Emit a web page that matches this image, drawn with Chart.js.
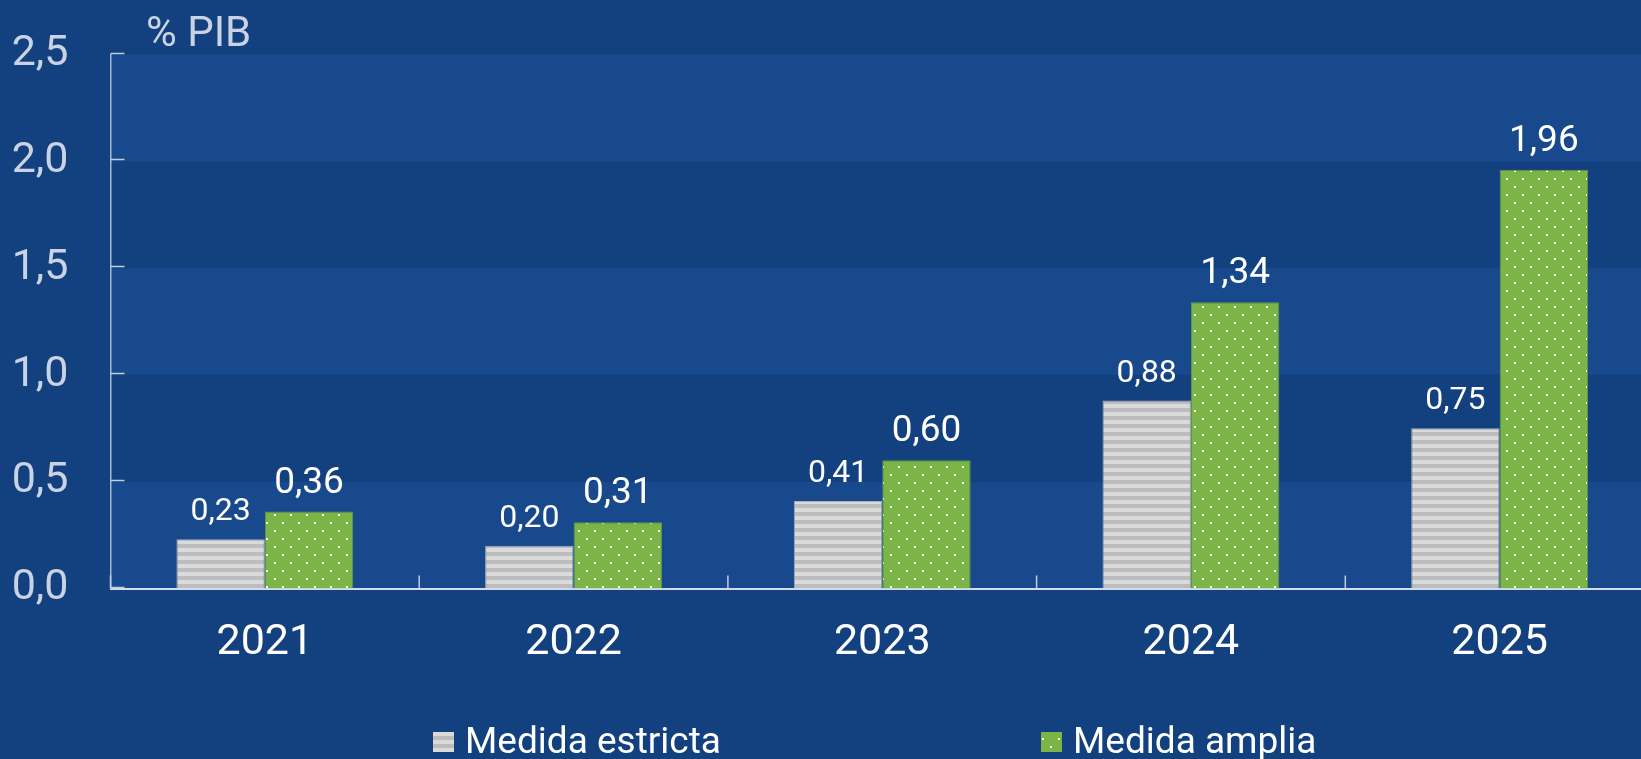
<!DOCTYPE html>
<html>
<head>
<meta charset="utf-8">
<script src="https://cdn.jsdelivr.net/npm/chart.js@4/dist/chart.umd.min.js"></script>
<style>
  html, body { margin: 0; padding: 0; background: #13417f; overflow: hidden; }
  canvas { display: block; }
</style>
</head>
<body>
<canvas id="chart" width="1670" height="759"></canvas>
<script>
// datos
const years = ["2021", "2022", "2023", "2024", "2025"];
const estricta = [0.23, 0.20, 0.41, 0.88, 0.75];
const amplia = [0.36, 0.31, 0.60, 1.34, 1.96];
const yTicks = [0, 0.5, 1, 1.5, 2, 2.5];
const seriesNames = ["Medida estricta", "Medida amplia"];
const unitLabel = "% PIB";

const fmt = (v, d) => v.toFixed(d).replace(".", ",");

// patrones de relleno
function stripes() {
  const c = document.createElement("canvas");
  c.width = 8; c.height = 8;
  const g = c.getContext("2d");
  g.fillStyle = "#bdbdbd"; g.fillRect(0, 0, 8, 8);
  g.fillStyle = "#dadada"; g.fillRect(0, 4, 8, 4);
  return g.createPattern(c, "repeat");
}
function dots() {
  const c = document.createElement("canvas");
  c.width = 16; c.height = 16;
  const g = c.getContext("2d");
  g.fillStyle = "#7bb548"; g.fillRect(0, 0, 16, 16);
  g.fillStyle = "#ffffff";
  g.fillRect(2, 2, 2, 2);
  g.fillRect(10, 10, 2, 2);
  return g.createPattern(c, "repeat");
}
const greyFill = stripes();
const greenFill = dots();

const bandas = {
  id: "bandas",
  beforeDraw(chart) {
    const { ctx, chartArea: a, scales: { y } } = chart;
    ctx.save();
    for (let i = 0; i < yTicks.length - 1; i++) {
      const top = y.getPixelForValue(yTicks[i + 1]);
      const bot = y.getPixelForValue(yTicks[i]);
      ctx.fillStyle = i % 2 === 0 ? "#17498c" : "#13417f";
      ctx.fillRect(a.left, top, a.right - a.left, bot - top);
    }
    ctx.restore();
  }
};

const extras = {
  id: "extras",
  afterDraw(chart) {
    const { ctx, chartArea: a, scales: { x, y } } = chart;
    ctx.save();
    // marcas hacia dentro
    ctx.strokeStyle = "#c3cde0";
    ctx.lineWidth = 1.5;
    yTicks.forEach(v => {
      const py = Math.round(y.getPixelForValue(v)) - 1.5;
      ctx.beginPath(); ctx.moveTo(a.left, py); ctx.lineTo(a.left + 14, py); ctx.stroke();
    });
    for (let i = 0; i < years.length; i++) {
      const px = i === 0 ? a.left : (x.getPixelForValue(i - 1) + x.getPixelForValue(i)) / 2;
      ctx.beginPath(); ctx.moveTo(px, a.bottom); ctx.lineTo(px, a.bottom - 13); ctx.stroke();
    }
    // etiquetas de datos
    ctx.fillStyle = "#ffffff";
    ctx.textAlign = "center";
    ctx.textBaseline = "alphabetic";
    chart.data.datasets.forEach((ds, i) => {
      ctx.font = (i === 0 ? "32px" : "37px") + " Roboto";
      chart.getDatasetMeta(i).data.forEach((bar, j) => {
        ctx.fillText(fmt(ds.data[j], 2), bar.x, bar.y - 19);
      });
    });
    // unidad
    ctx.fillStyle = "#c9d3e4";
    ctx.font = "42px Roboto";
    ctx.textAlign = "left";
    ctx.fillText(unitLabel, 146, 46);
    // leyenda
    const items = [
      { fill: greyFill, bx: 433, tx: 465 },
      { fill: greenFill, bx: 1041, tx: 1073 }
    ];
    ctx.font = "37px Roboto";
    items.forEach((it, i) => {
      ctx.fillStyle = it.fill;
      ctx.fillRect(it.bx, 732, 21, 20);
      ctx.fillStyle = "#ffffff";
      ctx.fillText(seriesNames[i], it.tx, 753);
    });
    ctx.restore();
  }
};

new Chart(document.getElementById("chart"), {
  type: "bar",
  data: {
    labels: years,
    datasets: [
      {
        label: seriesNames[0],
        data: estricta,
        backgroundColor: greyFill,
        borderColor: "#a9aeb8",
        borderWidth: 1,
        categoryPercentage: 0.573,
        barPercentage: 1
      },
      {
        label: seriesNames[1],
        data: amplia,
        backgroundColor: greenFill,
        borderColor: "#65993b",
        borderWidth: 1,
        categoryPercentage: 0.573,
        barPercentage: 1
      }
    ]
  },
  options: {
    responsive: false,
    animation: false,
    layout: { padding: { top: 54.5, right: 16, left: 0, bottom: 0 } },
    plugins: {
      legend: { display: false },
      tooltip: { enabled: false }
    },
    scales: {
      x: {
        grid: { display: false },
        border: { display: true, color: "#d3dae8", width: 2 },
        ticks: { color: "#ffffff", font: { family: "Roboto", size: 43 }, padding: 21, maxRotation: 0 },
        afterFit(s) { s.height = 170.5; s.paddingLeft = 0; s.paddingRight = 0; }
      },
      y: {
        min: 0,
        max: 2.5,
        afterBuildTicks(s) { s.ticks = yTicks.map(v => ({ value: v })); },
        grid: { display: false },
        border: { display: true, color: "#a9b8d2", width: 1.5 },
        ticks: {
          color: "#c9d3e4",
          font: { family: "Roboto", size: 43 },
          padding: 34,
          callback: v => fmt(v, 1)
        },
        afterFit(s) { s.width = 110.5; s.paddingTop = 0; s.paddingBottom = 0; }
      }
    }
  },
  plugins: [bandas, extras]
});
</script>
</body>
</html>
